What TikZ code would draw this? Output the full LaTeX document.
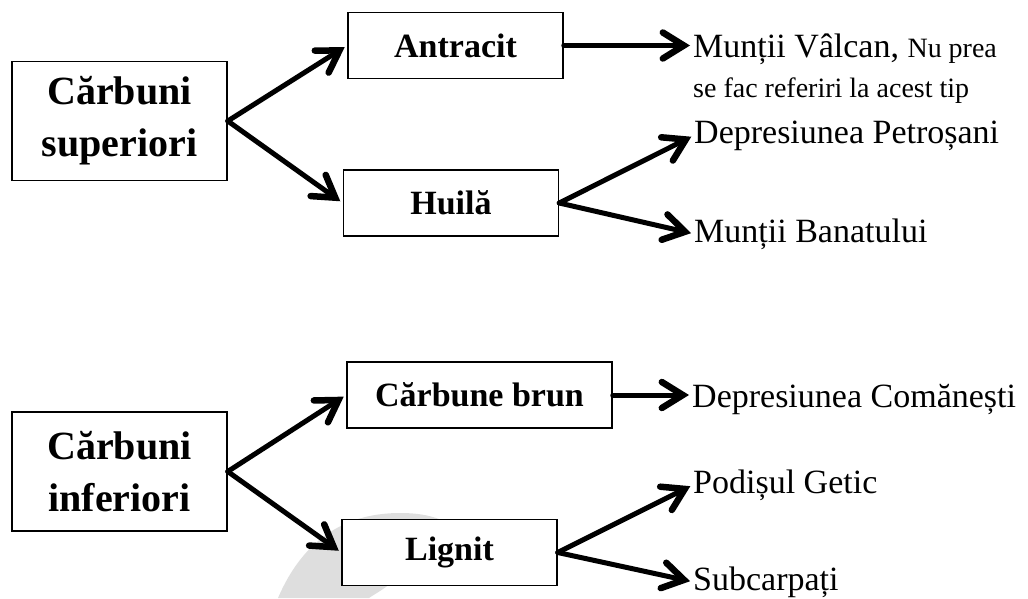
\documentclass[tikz,border=0pt]{standalone}
\usepackage{fontspec}
\setmainfont{Liberation Serif}
\usetikzlibrary{arrows.meta,positioning,calc}

\begin{document}
\begin{tikzpicture}[x=1pt, y=-1pt,
    box/.style={draw, line width=1.5pt, fill=white, align=center, inner sep=0pt,
      minimum width=215pt, minimum height=66pt, font=\fontsize{34}{40}\selectfont\bfseries},
    bigbox/.style={box, minimum height=119pt, font=\fontsize{40}{52}\selectfont\bfseries},
    place/.style={anchor=base west, inner sep=0pt, font=\fontsize{34}{40}\selectfont},
    arr/.style={line width=5pt, line cap=round,
      -{Straight Barb[length=21pt, width=26pt, line width=0pt 1.3, line cap=round]}, shorten >=3pt}]
    \useasboundingbox (0,0) rectangle (1028,598);

    % faint mark behind the bottom boxes
    \fill[black!13] (278,598) .. controls (305,535) and (350,513) .. (400,513)
      .. controls (420,513) and (435,516) .. (450,524) -- (400,575)
      .. controls (388,587) and (378,592) .. (369,598) -- cycle;

    % Carbuni superiori
    \node[bigbox] (sup) at (119.5, 121) {Cărbuni\\superiori};
    \node[box] (antr) at (455.5, 45.5) {Antracit};
    \node[box] (huila) at (451, 203) {Huilă};

    \node[place] (valcan) at (693, 57) {Munții Vâlcan, {\fontsize{28}{30}\selectfont Nu prea}};
    \node[place, font=\fontsize{28}{30}\selectfont] (nota) at (693, 97) {se fac referiri la acest tip};
    \node[place] (petr) at (694, 143) {Depresiunea Petroșani};
    \node[place] (banat) at (694, 242) {Munții Banatului};

    % Carbuni inferiori
    \node[bigbox] (inf) at (119.5, 471.5) {Cărbuni\\inferiori};
    \node[box, minimum width=265pt] (brun) at (479.5, 395) {Cărbune brun};
    \node[box] (lig) at (449.5, 552.5) {Lignit};

    \node[place] (coman) at (692, 407) {Depresiunea Comănești};
    \node[place] (getic) at (693, 493) {Podișul Getic};
    \node[place] (subc) at (693, 590) {Subcarpați};

    % Arrows
    \draw[arr] (sup.east) -- (antr.west);
    \draw[arr] (sup.east) -- (huila.west);
    \draw[arr] (antr.east) -- (antr.east -| valcan.west);
    \draw[arr] (huila.east) -- (petr.west);
    \draw[arr] (huila.east) -- (banat.west);

    \draw[arr] (inf.east) -- (brun.west);
    \draw[arr] (inf.east) -- (lig.west);
    \draw[arr] (brun.east) -- (brun.east -| coman.west);
    \draw[arr] (lig.east) -- (getic.west);
    \draw[arr] (lig.east) -- (subc.west);
\end{tikzpicture}
\end{document}
